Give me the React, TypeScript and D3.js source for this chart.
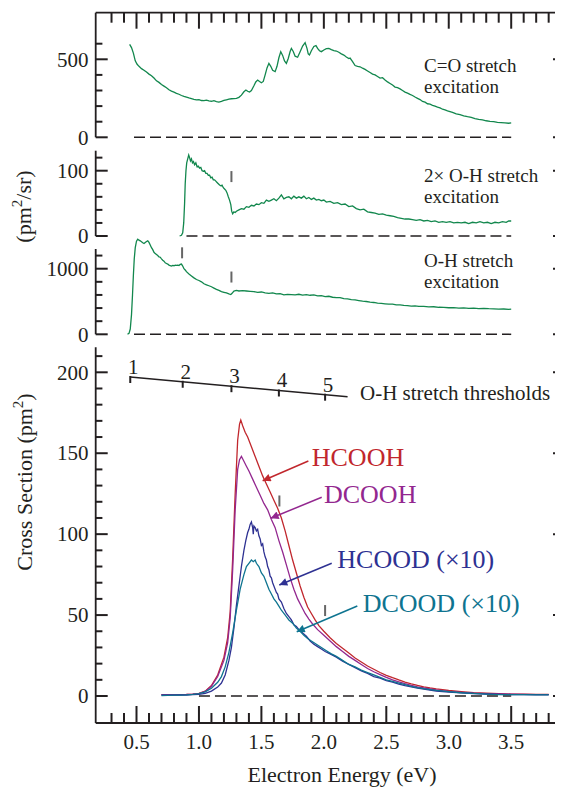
import React from "react";
import * as d3 from "d3";

// [electron energy (eV), value]
const coStretch: [number, number][] = [
  [0.445, 596], [0.46, 575], [0.475, 540], [0.49, 490], [0.505, 468], [0.52, 455], [0.54, 440],
  [0.56, 430], [0.58, 418], [0.6, 405], [0.62, 395], [0.64, 380], [0.66, 362], [0.68, 352],
  [0.7, 338], [0.72, 328], [0.74, 318], [0.76, 305], [0.78, 296], [0.8, 290], [0.82, 282],
  [0.84, 276], [0.86, 268], [0.88, 262], [0.9, 257], [0.92, 252], [0.94, 248], [0.96, 243],
  [0.98, 240], [1.0, 242], [1.02, 236], [1.04, 235], [1.06, 238], [1.08, 233], [1.1, 231],
  [1.12, 235], [1.14, 229], [1.16, 226], [1.18, 230], [1.2, 236], [1.22, 240], [1.24, 244],
  [1.26, 247], [1.28, 248], [1.3, 250], [1.32, 256], [1.34, 270], [1.36, 292], [1.376, 303],
  [1.39, 295], [1.405, 290], [1.42, 300], [1.44, 330], [1.455, 355], [1.47, 367], [1.485, 358],
  [1.5, 350], [1.515, 358], [1.53, 400], [1.545, 445], [1.56, 474], [1.575, 455], [1.59, 430],
  [1.61, 421], [1.625, 455], [1.64, 510], [1.655, 549], [1.67, 525], [1.685, 490], [1.7, 474],
  [1.715, 505], [1.73, 550], [1.74, 570], [1.755, 550], [1.77, 520], [1.79, 513], [1.81, 548],
  [1.83, 585], [1.85, 607], [1.865, 570], [1.875, 535], [1.885, 528], [1.9, 555], [1.92, 582],
  [1.937, 588], [1.95, 570], [1.965, 555], [1.98, 549], [2.0, 560], [2.02, 568], [2.04, 570],
  [2.06, 562], [2.08, 555], [2.1, 553], [2.12, 545], [2.14, 535], [2.16, 527], [2.18, 515],
  [2.2, 505], [2.21, 508], [2.23, 485], [2.25, 460], [2.27, 455], [2.29, 452], [2.31, 443],
  [2.33, 435], [2.35, 425], [2.37, 415], [2.39, 405], [2.41, 400], [2.43, 390], [2.45, 380],
  [2.47, 382], [2.49, 368], [2.51, 355], [2.53, 345], [2.55, 335], [2.57, 322], [2.59, 318],
  [2.61, 310], [2.63, 300], [2.65, 290], [2.67, 283], [2.69, 275], [2.71, 268], [2.73, 258],
  [2.75, 250], [2.77, 242], [2.79, 230], [2.81, 225], [2.83, 215], [2.85, 212], [2.87, 205],
  [2.89, 200], [2.91, 193], [2.93, 188], [2.95, 180], [2.97, 176], [2.99, 170], [3.01, 165],
  [3.03, 160], [3.06, 150], [3.09, 145], [3.12, 138], [3.15, 132], [3.18, 128], [3.21, 120],
  [3.24, 115], [3.27, 112], [3.3, 106], [3.33, 102], [3.36, 100], [3.39, 96], [3.42, 94],
  [3.45, 92], [3.48, 90], [3.5, 92],
];

const ohOvertone: [number, number][] = [
  [0.845, 0], [0.86, 1], [0.87, 5], [0.878, 20], [0.885, 50], [0.89, 80], [0.896, 100],
  [0.902, 112], [0.91, 118], [0.918, 124], [0.925, 120], [0.932, 115], [0.94, 118], [0.948, 112],
  [0.956, 114], [0.965, 109], [0.975, 112], [0.985, 106], [0.995, 107], [1.005, 104], [1.015, 105],
  [1.025, 100], [1.035, 99], [1.045, 100], [1.055, 96], [1.065, 96], [1.075, 93], [1.085, 93],
  [1.095, 89], [1.105, 90], [1.115, 86], [1.125, 86], [1.135, 84], [1.145, 82], [1.155, 80],
  [1.165, 78], [1.175, 77], [1.185, 78], [1.195, 74], [1.205, 72], [1.215, 70], [1.225, 66],
  [1.235, 60], [1.245, 55], [1.255, 48], [1.262, 38], [1.27, 34], [1.28, 37], [1.29, 36],
  [1.3, 38], [1.32, 40], [1.34, 42], [1.36, 41], [1.38, 45], [1.4, 44], [1.42, 47], [1.44, 46],
  [1.46, 49], [1.48, 48], [1.5, 51], [1.52, 50], [1.54, 55], [1.56, 53], [1.58, 55], [1.6, 57],
  [1.62, 54], [1.64, 58], [1.66, 63], [1.68, 57], [1.7, 59], [1.72, 60], [1.74, 57], [1.76, 61],
  [1.78, 58], [1.8, 60], [1.82, 58], [1.84, 61], [1.86, 57], [1.88, 59], [1.9, 56], [1.92, 58],
  [1.94, 55], [1.96, 56], [1.98, 54], [2.0, 55], [2.02, 52], [2.05, 53], [2.08, 50], [2.11, 51],
  [2.14, 48], [2.17, 49], [2.2, 45], [2.23, 46], [2.26, 42], [2.29, 40], [2.32, 41], [2.35, 37],
  [2.38, 36], [2.41, 35], [2.44, 33], [2.47, 34], [2.5, 32], [2.53, 31], [2.56, 30], [2.59, 28],
  [2.62, 27], [2.65, 26], [2.68, 26], [2.71, 25], [2.74, 24], [2.77, 25], [2.8, 23], [2.83, 24],
  [2.86, 22], [2.89, 23], [2.92, 21], [2.95, 22], [2.98, 21], [3.01, 22], [3.04, 20], [3.07, 21],
  [3.1, 20], [3.13, 21], [3.16, 19], [3.19, 21], [3.22, 20], [3.25, 22], [3.28, 20], [3.31, 21],
  [3.34, 19], [3.37, 21], [3.4, 20], [3.43, 22], [3.46, 21], [3.48, 23], [3.5, 23],
];

const ohStretch: [number, number][] = [
  [0.428, 0], [0.44, 15], [0.45, 80], [0.46, 300], [0.468, 600], [0.475, 900], [0.482, 1150],
  [0.49, 1320], [0.5, 1420], [0.51, 1450], [0.52, 1435], [0.53, 1425], [0.54, 1410], [0.55, 1395],
  [0.56, 1385], [0.57, 1400], [0.58, 1415], [0.59, 1425], [0.6, 1400], [0.61, 1360], [0.62, 1320],
  [0.63, 1290], [0.64, 1250], [0.65, 1230], [0.66, 1215], [0.67, 1200], [0.68, 1180], [0.69, 1175],
  [0.7, 1150], [0.71, 1130], [0.72, 1115], [0.73, 1090], [0.74, 1080], [0.75, 1070], [0.76, 1055],
  [0.77, 1045], [0.78, 1040], [0.79, 1050], [0.8, 1045], [0.81, 1055], [0.82, 1050], [0.83, 1055],
  [0.84, 1050], [0.85, 1065], [0.86, 1070], [0.87, 1040], [0.88, 1000], [0.89, 980], [0.9, 955],
  [0.92, 920], [0.94, 890], [0.96, 860], [0.98, 835], [1.0, 820], [1.02, 800], [1.04, 770],
  [1.06, 755], [1.08, 740], [1.1, 725], [1.12, 705], [1.14, 685], [1.16, 670], [1.18, 650],
  [1.2, 640], [1.22, 630], [1.24, 615], [1.255, 605], [1.265, 625], [1.28, 660], [1.3, 668],
  [1.32, 660], [1.35, 665], [1.38, 660], [1.41, 655], [1.44, 650], [1.47, 640], [1.5, 645],
  [1.53, 630], [1.56, 625], [1.59, 630], [1.62, 615], [1.65, 620], [1.68, 600], [1.71, 610],
  [1.74, 605], [1.77, 600], [1.8, 610], [1.83, 598], [1.86, 605], [1.89, 595], [1.92, 600],
  [1.95, 585], [1.98, 590], [2.01, 575], [2.04, 580], [2.07, 565], [2.1, 560], [2.13, 560],
  [2.16, 545], [2.19, 540], [2.22, 530], [2.25, 525], [2.28, 515], [2.31, 505], [2.34, 500],
  [2.37, 490], [2.4, 485], [2.43, 475], [2.46, 470], [2.49, 465], [2.52, 460], [2.55, 460],
  [2.58, 450], [2.61, 448], [2.64, 440], [2.67, 438], [2.7, 430], [2.73, 432], [2.76, 425],
  [2.8, 425], [2.84, 418], [2.88, 420], [2.92, 412], [2.96, 410], [3.0, 405], [3.04, 406],
  [3.08, 400], [3.12, 402], [3.16, 395], [3.2, 398], [3.24, 392], [3.28, 395], [3.32, 390],
  [3.36, 388], [3.4, 385], [3.44, 386], [3.48, 380], [3.5, 384],
];

const hcooh: [number, number][] = [
  [0.7, 0.8], [0.8, 0.8], [0.9, 1.0], [0.95, 1.2], [1.0, 1.6], [1.05, 3.0], [1.1, 6.5], [1.15, 13],
  [1.2, 24], [1.23, 36], [1.25, 52], [1.27, 85], [1.29, 125], [1.31, 158], [1.325, 168],
  [1.335, 170.5], [1.35, 167], [1.37, 163], [1.39, 160], [1.42, 154], [1.45, 148], [1.48, 142],
  [1.51, 136], [1.54, 131], [1.57, 126], [1.6, 121], [1.63, 116], [1.66, 110], [1.69, 102],
  [1.72, 93], [1.75, 84], [1.78, 76], [1.81, 68], [1.84, 61], [1.87, 55], [1.9, 51], [1.93, 47],
  [1.96, 43.5], [2.0, 40], [2.05, 36], [2.1, 32.5], [2.15, 29.5], [2.2, 26.5], [2.25, 23.5],
  [2.3, 21], [2.35, 18.5], [2.4, 16.5], [2.45, 14.5], [2.5, 12.8], [2.55, 11.3], [2.6, 9.9],
  [2.65, 8.6], [2.7, 7.5], [2.75, 6.5], [2.8, 5.7], [2.85, 5.0], [2.9, 4.4], [2.95, 3.9],
  [3.0, 3.4], [3.1, 2.7], [3.2, 2.1], [3.3, 1.7], [3.4, 1.4], [3.5, 1.2], [3.6, 1.1], [3.7, 1.0],
  [3.8, 1.0],
];

const dcooh: [number, number][] = [
  [0.7, 0.9], [0.8, 0.9], [0.9, 1.0], [0.95, 1.2], [1.0, 1.5], [1.05, 2.8], [1.1, 6], [1.15, 12],
  [1.2, 22], [1.23, 33], [1.25, 48], [1.27, 78], [1.29, 115], [1.31, 140], [1.325, 146],
  [1.34, 148], [1.36, 145], [1.38, 142], [1.4, 139], [1.43, 134], [1.46, 129], [1.49, 124],
  [1.52, 119], [1.55, 115], [1.58, 109], [1.61, 104], [1.64, 96], [1.67, 89], [1.7, 81],
  [1.73, 73], [1.76, 66], [1.79, 60], [1.82, 55.5], [1.85, 51], [1.88, 47.5], [1.91, 44.5],
  [1.95, 41], [2.0, 37.5], [2.05, 34], [2.1, 30.5], [2.15, 27.5], [2.2, 24.5], [2.25, 22],
  [2.3, 19.5], [2.35, 17], [2.4, 15], [2.45, 13.2], [2.5, 11.5], [2.55, 10], [2.6, 8.8],
  [2.65, 7.6], [2.7, 6.6], [2.75, 5.7], [2.8, 5], [2.85, 4.4], [2.9, 3.8], [2.95, 3.3], [3.0, 2.9],
  [3.1, 2.3], [3.2, 1.8], [3.3, 1.5], [3.4, 1.3], [3.5, 1.1], [3.6, 1.0], [3.7, 0.9], [3.8, 0.9],
];

const hcood: [number, number][] = [
  [0.7, 0.5], [0.75, 0.6], [0.8, 0.5], [0.85, 0.7], [0.9, 0.6], [0.95, 0.8], [1.0, 1.0],
  [1.05, 1.6], [1.1, 3.0], [1.15, 5.5], [1.18, 8], [1.21, 13], [1.24, 22], [1.26, 30], [1.28, 42],
  [1.3, 56], [1.32, 68], [1.34, 80], [1.36, 90], [1.375, 96], [1.39, 101], [1.4, 103], [1.41, 106],
  [1.42, 107.5], [1.43, 104], [1.435, 100], [1.44, 105], [1.45, 104], [1.46, 102], [1.47, 103],
  [1.48, 99], [1.49, 97], [1.5, 93], [1.51, 94], [1.52, 89], [1.53, 86], [1.54, 84], [1.55, 80],
  [1.56, 78], [1.57, 74], [1.58, 73], [1.59, 70], [1.6, 68], [1.62, 64], [1.63, 63], [1.64, 60],
  [1.66, 58], [1.68, 54], [1.7, 51], [1.72, 49], [1.74, 47], [1.76, 44], [1.78, 43], [1.8, 41],
  [1.83, 39], [1.86, 37], [1.89, 34], [1.92, 32], [1.95, 30.5], [1.98, 29], [2.01, 27.5],
  [2.05, 26], [2.1, 24], [2.15, 21.5], [2.2, 19.5], [2.25, 17.5], [2.3, 15.5], [2.35, 14],
  [2.4, 12], [2.45, 11], [2.5, 9.5], [2.55, 8.5], [2.6, 7.4], [2.65, 6.4], [2.7, 5.6], [2.75, 4.8],
  [2.8, 4.2], [2.85, 3.6], [2.9, 3.1], [3.0, 2.4], [3.1, 1.9], [3.2, 1.5], [3.3, 1.2], [3.4, 1.0],
  [3.5, 0.9], [3.6, 0.8], [3.7, 0.8], [3.8, 0.8],
];

const dcood: [number, number][] = [
  [0.7, 0.3], [0.75, 0.4], [0.8, 0.5], [0.85, 0.6], [0.9, 0.7], [0.95, 1.0], [1.0, 1.4],
  [1.05, 2.6], [1.1, 4.8], [1.15, 8.5], [1.18, 12], [1.21, 18], [1.24, 27], [1.27, 39], [1.3, 53],
  [1.33, 66], [1.36, 75], [1.38, 80], [1.4, 82], [1.42, 84], [1.435, 83], [1.45, 84], [1.46, 82],
  [1.48, 80], [1.5, 76], [1.52, 74], [1.54, 70], [1.56, 66], [1.58, 63], [1.6, 60], [1.62, 58],
  [1.64, 55.5], [1.66, 53], [1.68, 51], [1.7, 49], [1.72, 47], [1.75, 45], [1.78, 42], [1.81, 40],
  [1.84, 37.5], [1.87, 35.5], [1.9, 34], [1.94, 32], [1.98, 30], [2.02, 28], [2.06, 26],
  [2.1, 24.5], [2.15, 22], [2.2, 19.5], [2.25, 18], [2.3, 16], [2.35, 14.5], [2.4, 13],
  [2.45, 11.5], [2.5, 10], [2.55, 9], [2.6, 8], [2.65, 7], [2.7, 6], [2.75, 5.2], [2.8, 4.5],
  [2.85, 4], [2.9, 3.5], [3.0, 2.7], [3.1, 2], [3.2, 1.6], [3.3, 1.2], [3.4, 0.9], [3.5, 0.8],
  [3.6, 0.8], [3.7, 0.7], [3.8, 0.7],
];

const seriesNames = ["HCOOH", "DCOOH", "HCOOD (\u00d710)", "DCOOD (\u00d710)"];
const seriesColors = ["#c1272d", "#93278f", "#2e3192", "#0e7490"];
const seriesData = [hcooh, dcooh, hcood, dcood];
// label anchor, arrow tail and arrow tip, in (eV, pm^2)
const labelAt: [number, number][] = [[1.903, 142.1], [2.001, 119.1], [2.108, 78.9], [2.311, 52.1]];
const arrowTail: [number, number][] = [[1.876, 145.2], [1.983, 122.8], [2.063, 82.0], [2.268, 55.6]];
const arrowTip: [number, number][] = [[1.51, 133.0], [1.574, 109.8], [1.643, 68.6], [1.783, 39.7]];

// O-H stretch thresholds (eV)
const thresholds = [0.45, 0.87, 1.26, 1.64, 2.01];
const thresholdLabels = ["1", "2", "3", "4", "5"];
const thresholdLineEnds: [number, number][] = [[0.45, 197.1], [2.19, 184.9]];

const panelText = [
  ["C=O stretch", "excitation"],
  ["2\u00d7 O-H stretch", "excitation"],
  ["O-H stretch", "excitation"],
];
const panelTextAt: [number, number][] = [[2.802, 420], [2.802, 82], [2.802, 1020]];

// small threshold marks drawn in the panels: [panel, eV, value]
const marks: [number, number, number][] = [
  [1, 1.26, 91], [2, 0.865, 1242], [2, 1.26, 873], [3, 1.644, 120.5], [3, 2.01, 52.8],
];

const FONT = "Liberation Serif";
const INK = "#231f20";
const GREEN = "#12874d";

const xL = 95.7;
const xR = 565;
const yTop = 12.7;
const yBottom = 723;

export default function App() {
  const x = d3.scaleLinear().domain([0.5, 3.5]).range([136.5, 511.2]);

  const panels = [
    { y: d3.scaleLinear().domain([0, 500]).range([137.3, 59.3]), top: yTop, bottom: 137.3,
      ticks: d3.range(0, 601, 100), labels: [0, 500], data: coStretch, zero: [0.48, 3.5] },
    { y: d3.scaleLinear().domain([0, 100]).range([236, 170.7]), top: 150.7, bottom: 236,
      ticks: d3.range(0, 121, 20), labels: [0, 100], data: ohOvertone, zero: [0.9, 3.5] },
    { y: d3.scaleLinear().domain([0, 1000]).range([334.3, 268.7]), top: 249, bottom: 334.3,
      ticks: d3.range(0, 1201, 200), labels: [0, 1000], data: ohStretch, zero: [0.48, 3.5] },
    { y: d3.scaleLinear().domain([0, 200]).range([696, 372.3]), top: 347.3, bottom: yBottom,
      ticks: d3.range(0, 211, 10), labels: [0, 50, 100, 150, 200], data: null, zero: [1.0, 3.5] },
  ];
  const y4 = panels[3].y;

  const xTicks = d3.range(3, 39).map((i) => i / 10);
  const isMajorX = (t: number) => Math.abs(t * 2 - Math.round(t * 2)) < 1e-6;

  const lineFor = (ys: d3.ScaleLinear<number, number>) =>
    d3.line<[number, number]>().x((d) => x(d[0])).y((d) => ys(d[1]));

  const thrLine = d3.scaleLinear()
    .domain([thresholdLineEnds[0][0], thresholdLineEnds[1][0]])
    .range([thresholdLineEnds[0][1], thresholdLineEnds[1][1]]);

  return (
    <div style={{ margin: "-8px 0 0 -8px", width: 563, height: 787 }}>
      <svg width={563} height={787} style={{ display: "block", fontFamily: FONT }} fontFamily={FONT}>
        <defs>
          {seriesColors.map((c, i) => (
            <marker key={i} id={`ah${i}`} viewBox="0 0 10 10" refX="10" refY="5"
              markerWidth="11" markerHeight="8" markerUnits="userSpaceOnUse" orient="auto">
              <path d="M0,0 L10,5 L0,10 z" fill={c} />
            </marker>
          ))}
        </defs>
        <rect width={563} height={787} fill="#fff" />

        {/* top frame and bottom axis */}
        <line x1={xL} x2={xR} y1={yTop} y2={yTop} stroke={INK} strokeWidth={1.8} />
        <line x1={xL} x2={xR} y1={yBottom} y2={yBottom} stroke={INK} strokeWidth={1.8} />
        {xTicks.map((t) => (
          <g key={t}>
            <line x1={x(t)} x2={x(t)} y1={yTop} y2={yTop + (isMajorX(t) ? 16 : 10)} stroke={INK} strokeWidth={2} />
            <line x1={x(t)} x2={x(t)} y1={yBottom} y2={yBottom - (isMajorX(t) ? 17 : 10)} stroke={INK} strokeWidth={2} />
          </g>
        ))}
        {xTicks.filter(isMajorX).map((t) => (
          <text key={t} x={x(t)} y={749} fontFamily={FONT} fontSize={21} textAnchor="middle" fill={INK}>
            {t.toFixed(1)}
          </text>
        ))}
        <text x={342} y={782} fontFamily={FONT} fontSize={22} textAnchor="middle" fill={INK}>
          Electron Energy (eV)
        </text>

        {/* y titles */}
        <text transform="translate(31,206.5) rotate(-90)" fontFamily={FONT} fontSize={22} textAnchor="middle" fill={INK}>
          (pm<tspan dy={-9} fontSize={15}>2</tspan><tspan dy={9}>/sr)</tspan>
        </text>
        <text transform="translate(32,482) rotate(-90)" fontFamily={FONT} fontSize={22} textAnchor="middle" fill={INK}>
          Cross Section (pm<tspan dy={-9} fontSize={15}>2</tspan><tspan dy={9}>)</tspan>
        </text>

        {panels.map((p, pi) => (
          <g key={pi}>
            <line x1={xL} x2={xL} y1={p.top} y2={p.bottom} stroke={INK} strokeWidth={1.8} />
            <line x1={xR} x2={xR} y1={p.top} y2={p.bottom} stroke={INK} strokeWidth={1.8} />
            {p.ticks.map((t) => {
              const major = p.labels.includes(t);
              const len = major ? 12 : 6.7;
              return (
                <g key={t}>
                  <line x1={xL} x2={xL + len} y1={p.y(t)} y2={p.y(t)} stroke={INK} strokeWidth={2} />
                  <line x1={xR} x2={xR - len} y1={p.y(t)} y2={p.y(t)} stroke={INK} strokeWidth={2} />
                </g>
              );
            })}
            {p.labels.map((t) => (
              <text key={t} x={88.5} y={p.y(t) + 7.2} fontFamily={FONT} fontSize={21} textAnchor="end" fill={INK}>
                {t}
              </text>
            ))}
            <line x1={x(p.zero[0])} x2={x(p.zero[1])} y1={p.y(0)} y2={p.y(0)} stroke={INK}
              strokeWidth={1.5} strokeDasharray="11,5" />
            {p.data && (
              <path d={lineFor(p.y)(p.data) || ""} fill="none" stroke={GREEN} strokeWidth={1.3} />
            )}
            {pi < 3 && (
              <text x={x(panelTextAt[pi][0])} y={p.y(panelTextAt[pi][1])} fontFamily={FONT} fontSize={19} fill={INK}>
                <tspan x={x(panelTextAt[pi][0])}>{panelText[pi][0]}</tspan>
                <tspan x={x(panelTextAt[pi][0])} dy={21}>{panelText[pi][1]}</tspan>
              </text>
            )}
          </g>
        ))}

        {marks.map(([pi, e, v], i) => (
          <line key={i} x1={x(e)} x2={x(e)} y1={panels[pi].y(v) - 5.5} y2={panels[pi].y(v) + 5.5}
            stroke="#666" strokeWidth={2} />
        ))}

        {/* O-H stretch thresholds scale */}
        <line x1={x(thresholdLineEnds[0][0])} y1={y4(thresholdLineEnds[0][1])}
          x2={x(thresholdLineEnds[1][0])} y2={y4(thresholdLineEnds[1][1])} stroke={INK} strokeWidth={1.5} />
        {thresholds.map((t, i) => {
          const yy = y4(thrLine(t));
          return (
            <g key={t}>
              <line x1={x(t)} x2={x(t)} y1={yy - 1} y2={yy + 6} stroke={INK} strokeWidth={2} />
              <text x={x(t) + 3} y={yy - 3} fontFamily={FONT} fontSize={21} textAnchor="middle" fill={INK}>
                {thresholdLabels[i]}
              </text>
            </g>
          );
        })}
        <text x={360} y={400} fontFamily={FONT} fontSize={21} fill={INK}>O-H stretch thresholds</text>

        {/* cross section curves */}
        {seriesData.map((d, i) => (
          <path key={i} d={lineFor(y4)(d) || ""} fill="none" stroke={seriesColors[i]} strokeWidth={1.3} />
        ))}
        {seriesNames.map((n, i) => (
          <g key={n}>
            <line x1={x(arrowTail[i][0])} y1={y4(arrowTail[i][1])} x2={x(arrowTip[i][0])} y2={y4(arrowTip[i][1])}
              stroke={seriesColors[i]} strokeWidth={1.5} markerEnd={`url(#ah${i})`} />
            <text x={x(labelAt[i][0])} y={y4(labelAt[i][1])} fontFamily={FONT} fontSize={26} fill={seriesColors[i]}>
              {n}
            </text>
          </g>
        ))}
      </svg>
    </div>
  );
}
